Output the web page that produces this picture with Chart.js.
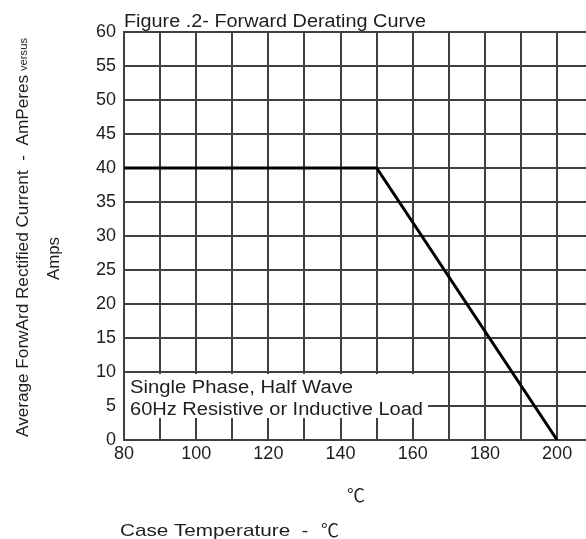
<!DOCTYPE html>
<html>
<head>
<meta charset="utf-8">
<script src="https://cdn.jsdelivr.net/npm/chart.js@4.4.1/dist/chart.umd.min.js"></script>
<style>
    html, body { margin: 0; padding: 0; background: #fff; }
    canvas { display: block; }
</style>
</head>
<body>
<canvas id="derating" width="586" height="539"></canvas>
<script>
// Data
const caseTemps = [80, 150, 200];
const forwardCurrent = [40, 40, 0];

const xMin = 80;
const xLastTick = 200;
const xTickStep = 10;
const xLabelStep = 20;
const yTickStep = 5;

const titleText = 'Figure .2- Forward Derating Curve';
const noteLines = ['Single Phase, Half Wave', '60Hz Resistive or Inductive Load'];
const yTitleMain = 'Average ForwArd Rectified Current  -  AmPeres';
const yTitleTail = 'versus';
const yTitleUnit = 'Amps';
const xUnitText = '\u2103';
const xTitleText = 'Case Temperature  -  ';

const textColor = '#1e1e1e';
const gridColor = '#404040';
const baseFont = '"Liberation Sans", Arial, sans-serif';
const unitFont = '18px "Noto Sans CJK SC", "DejaVu Sans", sans-serif';

// Draws a string squeezed / stretched to a given length
function fitText(ctx, text, x, y, targetWidth) {
    const w = ctx.measureText(text).width;
    ctx.save();
    ctx.translate(x, y);
    ctx.scale(targetWidth / w, 1);
    ctx.fillText(text, 0, 0);
    ctx.restore();
}

const labelsPlugin = {
    id: 'figureLabels',
    beforeDatasetsDraw(chart) {
        // white box behind the note, it hides the grid lines
        const { ctx, chartArea, scales } = chart;
        ctx.save();
        const top = scales.y.getPixelForValue(10) + 2;
        const bottom = scales.y.getPixelForValue(0) - 22;
        ctx.fillStyle = '#fff';
        ctx.fillRect(chartArea.left + 1, top, 303, bottom - top);
        ctx.fillStyle = textColor;
        ctx.textBaseline = 'alphabetic';
        ctx.font = '18px ' + baseFont;
        fitText(ctx, noteLines[0], chartArea.left + 6, 393, 223);
        fitText(ctx, noteLines[1], chartArea.left + 6, 415, 293);
        ctx.restore();
    },
    afterDraw(chart) {
        const { ctx, chartArea } = chart;
        ctx.save();
        ctx.fillStyle = textColor;
        ctx.textBaseline = 'alphabetic';

        // title sits on top of the grid
        ctx.font = '18px ' + baseFont;
        fitText(ctx, titleText, chartArea.left, chartArea.top - 5, 302);

        // vertical axis title, two lines
        ctx.save();
        ctx.translate(28, 437);
        ctx.rotate(-Math.PI / 2);
        ctx.font = '16px ' + baseFont;
        fitText(ctx, yTitleMain, 0, 0, 362);
        ctx.font = '10px ' + baseFont;
        fitText(ctx, yTitleTail, 366, -1, 33);
        ctx.restore();

        ctx.save();
        ctx.translate(59, 280);
        ctx.rotate(-Math.PI / 2);
        ctx.font = '16px ' + baseFont;
        fitText(ctx, yTitleUnit, 0, 0, 43);
        ctx.restore();

        // horizontal axis title
        ctx.font = unitFont;
        ctx.fillText(xUnitText, 347, 502);
        ctx.font = '17px ' + baseFont;
        fitText(ctx, xTitleText, 120, 536, 200);
        ctx.font = unitFont;
        ctx.fillText(xUnitText, 321, 537);
        ctx.restore();
    }
};

const ctx = document.getElementById('derating');
const chart = new Chart(ctx, {
    type: 'line',
    data: {
        datasets: [{
            data: caseTemps.map((t, i) => ({ x: t, y: forwardCurrent[i] })),
            borderColor: '#000',
            borderWidth: 3,
            pointRadius: 0,
            tension: 0,
            fill: false
        }]
    },
    options: {
        responsive: false,
        animation: false,
        layout: { padding: { top: 32, right: 0, left: 0, bottom: 0 } },
        plugins: {
            legend: { display: false },
            tooltip: { enabled: false },
            title: { display: false }
        },
        scales: {
            x: {
                type: 'linear',
                min: xMin,
                max: 208,
                afterBuildTicks(scale) {
                    const ticks = [];
                    for (let v = xMin; v <= xLastTick; v += xTickStep) ticks.push({ value: v });
                    scale.ticks = ticks;
                },
                afterFit(scale) { scale.height = 99; },
                grid: { color: gridColor, lineWidth: 2, drawTicks: false },
                border: { color: gridColor, width: 2 },
                ticks: {
                    stepSize: xTickStep,
                    autoSkip: false,
                    maxRotation: 0,
                    padding: 3,
                    color: textColor,
                    font: { family: baseFont, size: 18 },
                    callback: v => (v % xLabelStep === 0 ? String(v) : '')
                }
            },
            y: {
                min: 0,
                max: 60,
                afterFit(scale) { scale.width = 124; },
                grid: { color: gridColor, lineWidth: 2, drawTicks: false },
                border: { color: gridColor, width: 2 },
                ticks: {
                    stepSize: yTickStep,
                    padding: 8,
                    color: textColor,
                    font: { family: baseFont, size: 18 }
                }
            }
        }
    },
    plugins: [labelsPlugin]
});
</script>
</body>
</html>
